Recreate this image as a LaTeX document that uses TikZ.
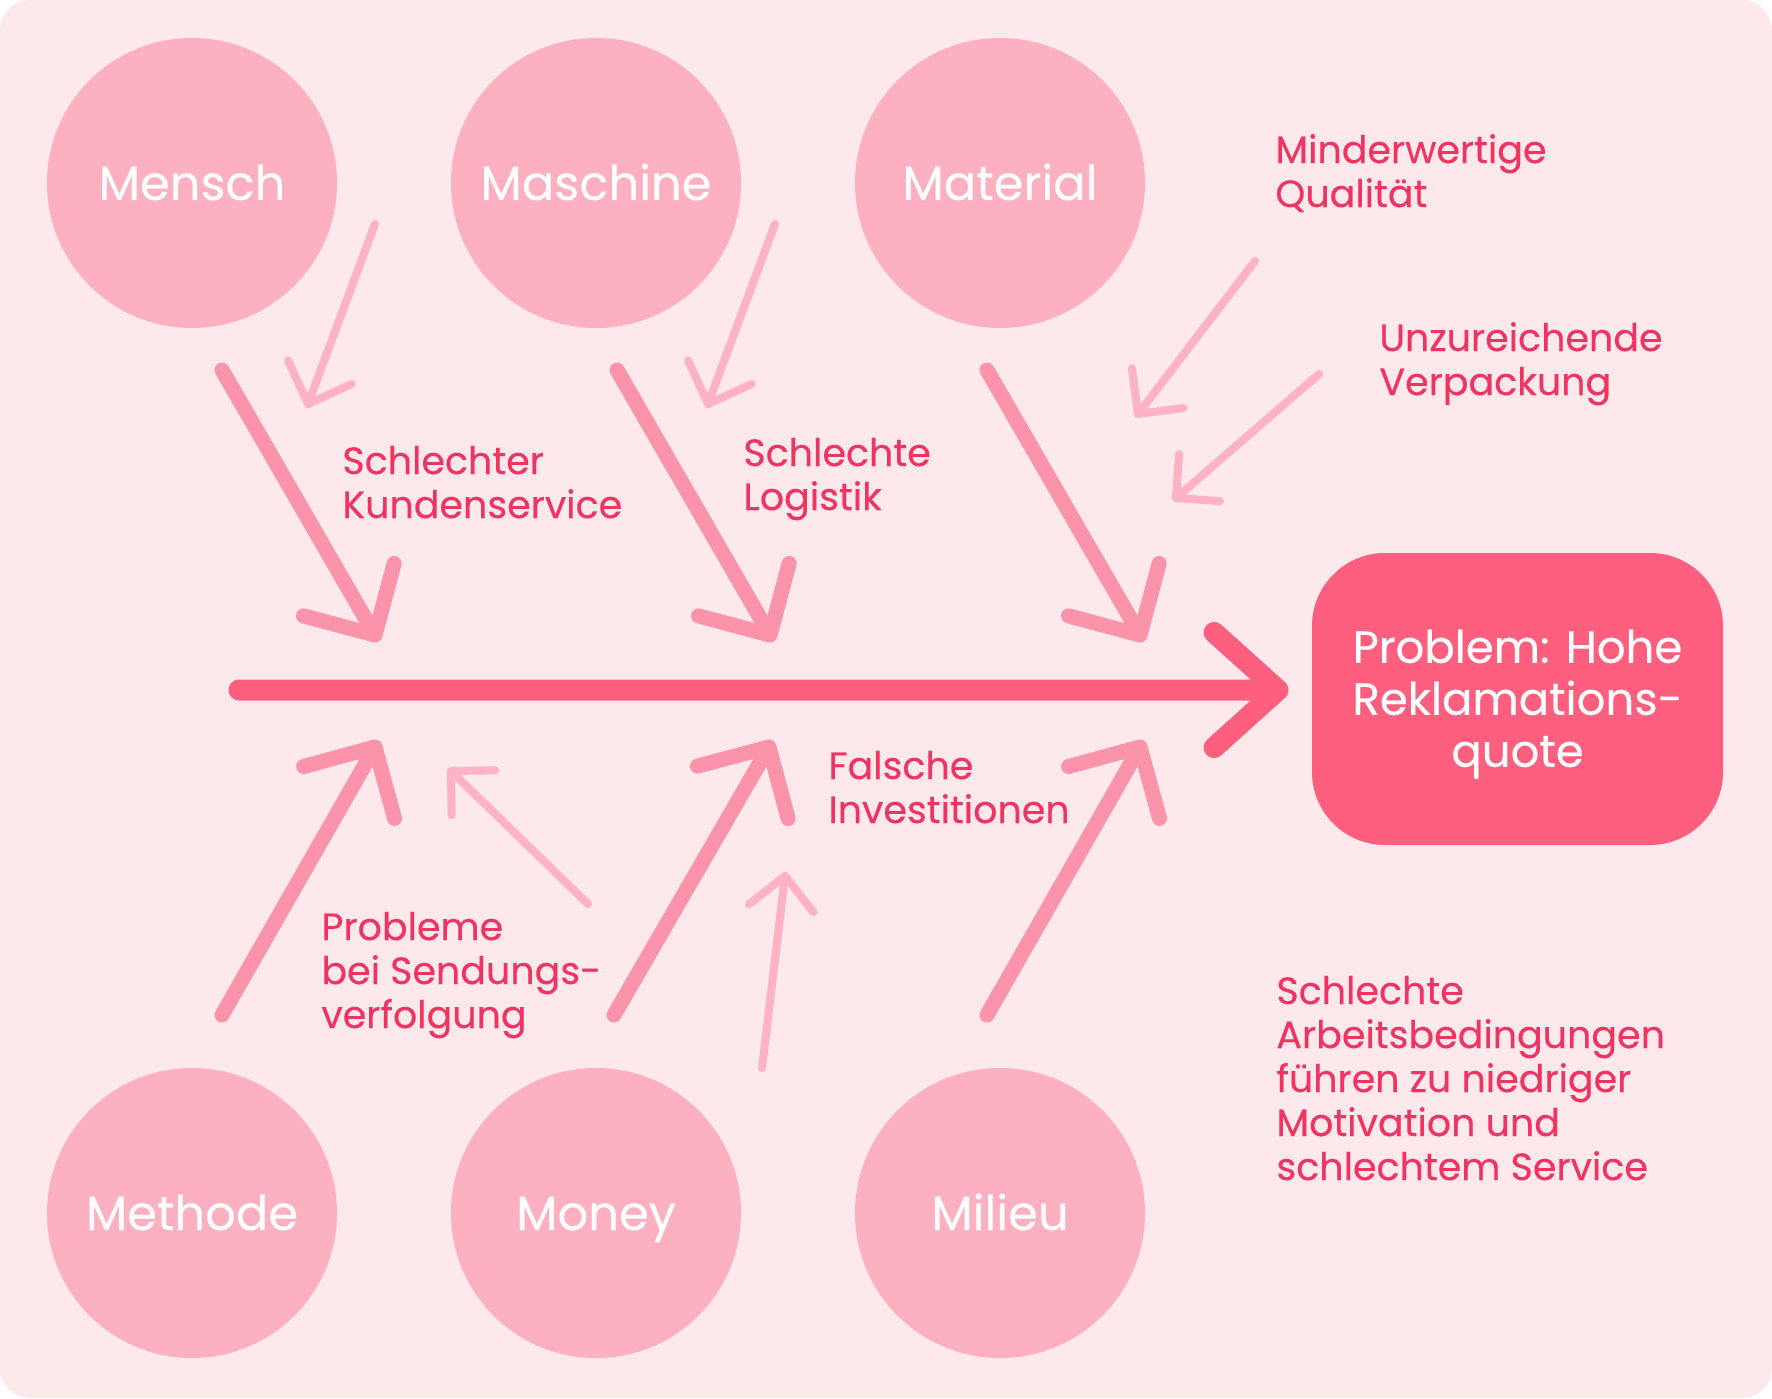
\documentclass[tikz,border=0pt]{standalone}
\usepackage{fontspec}
\setmainfont{Poppins}[FakeBold=0.3]
\usetikzlibrary{calc}
\definecolor{bgpink}{HTML}{FDE8EC}
\definecolor{circpink}{HTML}{FDB0C0}
\definecolor{bonepink}{HTML}{FB93AA}
\definecolor{twigpink}{HTML}{FDB3C3}
\definecolor{spinered}{HTML}{FF5F7E}
\definecolor{labelred}{HTML}{F03462}
\tikzset{
  cat/.style={circle,fill=circpink,minimum size=145pt,inner sep=0pt,text=white,
    font=\fontsize{24}{28}\selectfont,text height=17pt,text depth=0pt},
  cause/.style={anchor=base west,align=left,inner sep=0pt,text=labelred,
    font=\fontsize{19}{22}\selectfont},
  bone/.style={draw=bonepink,line width=7.5pt,line cap=round,line join=round},
  twig/.style={draw=twigpink,line width=4pt,line cap=round,line join=round},
}
\begin{document}
\begin{tikzpicture}[x=0.5pt,y=-0.5pt]
\useasboundingbox (0,0) rectangle (1772,1398);
\fill[bgpink,rounded corners=15pt] (0,0) rectangle (1772,1398);
% categories
\node[cat] (mensch) at (192,183) {Mensch};
\node[cat] (maschine) at (596,183) {Maschine};
\node[cat] (material) at (1000,183) {Material};
\node[cat] (methode) at (192,1213) {Methode};
\node[cat] (money) at (596,1213) {Money};
\node[cat] (milieu) at (1000,1213) {Milieu};
% effect
\node[fill=spinered,rounded corners=36.5pt,minimum width=205.5pt,minimum height=146pt,
  inner sep=0pt] (problem) at (1517.5,699) {};
\node[align=center,inner sep=0pt,text=white,font=\fontsize{22.5}{26}\selectfont,yshift=-2.5pt]
  (problemtext) at (problem.center) {Problem: Hohe\\Reklamations-\\quote};
% main bones
\coordinate (b1s) at (222,370); \coordinate (b1t) at (375,635);
\coordinate (b2s) at (617,370); \coordinate (b2t) at (770,635);
\coordinate (b3s) at (987,370); \coordinate (b3t) at (1140,635);
\coordinate (b4s) at (222,1015); \coordinate (b4t) at (375,747);
\coordinate (b5s) at (614,1015); \coordinate (b5t) at (769,747);
\coordinate (b6s) at (987,1015); \coordinate (b6t) at (1140,747);
\draw[bone] (b1s) -- (b1t) -- ($(b1t)!37pt!45:(b1s)$) (b1t) -- ($(b1t)!37pt!-45:(b1s)$);
\draw[bone] (b2s) -- (b2t) -- ($(b2t)!37pt!45:(b2s)$) (b2t) -- ($(b2t)!37pt!-45:(b2s)$);
\draw[bone] (b3s) -- (b3t) -- ($(b3t)!37pt!45:(b3s)$) (b3t) -- ($(b3t)!37pt!-45:(b3s)$);
\draw[bone] (b4s) -- (b4t) -- ($(b4t)!37pt!45:(b4s)$) (b4t) -- ($(b4t)!37pt!-45:(b4s)$);
\draw[bone] (b5s) -- (b5t) -- ($(b5t)!37pt!45:(b5s)$) (b5t) -- ($(b5t)!37pt!-45:(b5s)$);
\draw[bone] (b6s) -- (b6t) -- ($(b6t)!37pt!45:(b6s)$) (b6t) -- ($(b6t)!37pt!-45:(b6s)$);
% sub causes
\coordinate (t1s) at (375,224); \coordinate (t1t) at (308,404);
\coordinate (t2s) at (775,224); \coordinate (t2t) at (708,404);
\coordinate (t3s) at (1255,261); \coordinate (t3t) at (1138,414);
\coordinate (t4s) at (1319,374); \coordinate (t4t) at (1176,498);
\coordinate (t5s) at (588,904); \coordinate (t5t) at (451,771);
\coordinate (t6s) at (762,1068); \coordinate (t6t) at (785,876);
\draw[twig] (t1s) -- (t1t) -- ($(t1t)!24pt!45:(t1s)$) (t1t) -- ($(t1t)!24pt!-45:(t1s)$);
\draw[twig] (t2s) -- (t2t) -- ($(t2t)!24pt!45:(t2s)$) (t2t) -- ($(t2t)!24pt!-45:(t2s)$);
\draw[twig] (t3s) -- (t3t) -- ($(t3t)!23pt!45:(t3s)$) (t3t) -- ($(t3t)!23pt!-45:(t3s)$);
\draw[twig] (t4s) -- (t4t) -- ($(t4t)!22pt!45:(t4s)$) (t4t) -- ($(t4t)!22pt!-45:(t4s)$);
\draw[twig] (t5s) -- (t5t) -- ($(t5t)!22pt!45:(t5s)$) (t5t) -- ($(t5t)!22pt!-45:(t5s)$);
\draw[twig] (t6s) -- (t6t) -- ($(t6t)!23pt!45:(t6s)$) (t6t) -- ($(t6t)!23pt!-45:(t6s)$);
% spine
\coordinate (spine) at (239,690); \coordinate (head) at (1278,690);
\draw[draw=spinered,line width=10.5pt,line cap=round,line join=round]
  (spine) -- (head) -- ($(head)!43pt!42:(spine)$) (head) -- ($(head)!43pt!-42:(spine)$);
% labels (placed at the baseline of their last line)
\node[cause] (kunden) at (342,518) {Schlechter\\Kundenservice};
\node[cause] (logistik) at (743,510) {Schlechte\\Logistik};
\node[cause] (qualitaet) at (1275,207) {Minderwertige\\Qualität};
\node[cause] (verpackung) at (1379,395) {Unzureichende\\Verpackung};
\node[cause] (sendung) at (321,1028) {Probleme\\bei Sendungs-\\verfolgung};
\node[cause] (invest) at (828,823) {Falsche\\Investitionen};
\node[cause] (arbeit) at (1276,1180) {Schlechte\\Arbeitsbedingungen\\führen zu niedriger\\Motivation und\\schlechtem Service};
\end{tikzpicture}
\end{document}
